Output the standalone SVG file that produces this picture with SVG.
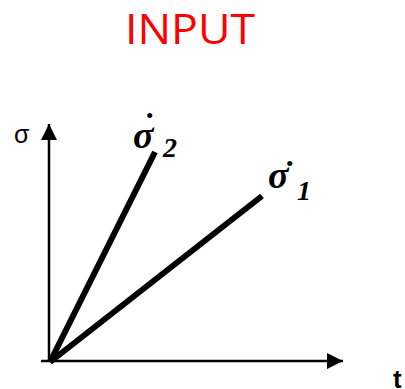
<svg xmlns="http://www.w3.org/2000/svg" width="405" height="389" viewBox="0 0 405 389">
<style>
.axis{stroke:#000;stroke-width:2.5;fill:none}
.rate{stroke:#000;stroke-width:6;fill:none;stroke-linecap:butt}
.sym{font-family:"Liberation Serif",serif;font-style:italic;font-weight:bold;fill:#000}
</style>
<defs>
<marker id="arr" viewBox="0 0 16 16" refX="16" refY="8" markerWidth="16" markerHeight="16" markerUnits="userSpaceOnUse" orient="auto">
<path d="M0,0 L16,8 L0,16 Z" fill="#000"/>
</marker>
</defs>
<g id="title"><text x="190" y="44" font-family="Open Sans, sans-serif" font-size="42" fill="#ff0000" text-anchor="middle" textLength="130" lengthAdjust="spacingAndGlyphs">INPUT</text></g>
<g id="connectors">
<line class="axis" x1="49" y1="362" x2="49" y2="124" marker-end="url(#arr)"/>
<line class="axis" x1="41" y1="361" x2="343" y2="361" marker-end="url(#arr)"/>
<line class="rate" x1="50" y1="362" x2="155" y2="152"/>
<line class="rate" x1="50" y1="362" x2="262" y2="196"/>
</g>
<g id="sigma-axis"><text x="14" y="143" font-family="Liberation Sans, sans-serif" font-size="25">σ</text></g>
<g id="t-axis"><text x="393" y="388" font-family="Liberation Sans, sans-serif" font-size="26" font-weight="bold">t</text></g>
<g id="rate2"><text class="sym"><tspan x="133" y="148" font-size="38">σ</tspan><tspan x="144" y="136" font-size="34" font-style="normal">˙</tspan><tspan x="163" y="157" font-size="28">2</tspan></text></g>
<g id="rate1"><text class="sym"><tspan x="268" y="188" font-size="38">σ</tspan><tspan x="284" y="184" font-size="34" font-style="normal">˙</tspan><tspan x="297" y="200" font-size="28">1</tspan></text></g>
</svg>
